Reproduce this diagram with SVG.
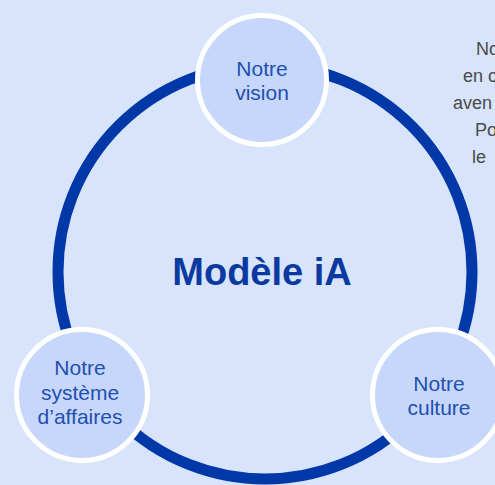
<svg xmlns="http://www.w3.org/2000/svg" width="495" height="485" viewBox="0 0 495 485">
<style>
.node circle{fill:#c6d7fb;stroke:#ffffff;stroke-width:5}
.lbl{font-family:"Liberation Sans",Arial,sans-serif;font-size:21px;fill:#1f4fb0;text-anchor:middle}
.side{font-family:"Liberation Sans",Arial,sans-serif;font-size:18px;fill:#4a4a4a}
</style>
<rect width="495" height="485" fill="#d8e3fc"/>
<g id="connectors">
<circle cx="265" cy="272" r="207" fill="none" stroke="#0038a8" stroke-width="11"/>
</g>
<g id="center">
<text x="262" y="285" font-family="Liberation Sans,Arial,sans-serif" font-size="38" font-weight="bold" fill="#0a3a9f" text-anchor="middle">Modèle iA</text>
</g>
<g id="vision" class="node">
<circle cx="262" cy="80" r="64.5"/>
<text class="lbl" x="262" y="76">Notre</text>
<text class="lbl" x="262" y="100">vision</text>
</g>
<g id="affaires" class="node">
<circle cx="82" cy="395" r="65.5"/>
<text class="lbl" x="80" y="375">Notre</text>
<text class="lbl" x="80" y="400">système</text>
<text class="lbl" x="80" y="424">d’affaires</text>
</g>
<g id="culture" class="node">
<circle cx="438" cy="395" r="65.5"/>
<text class="lbl" x="439" y="391">Notre</text>
<text class="lbl" x="439" y="415">culture</text>
</g>
<g id="sidetext">
<text class="side" x="476" y="55">No</text>
<text class="side" x="463" y="82">en c</text>
<text class="side" x="453" y="109">aven</text>
<text class="side" x="475" y="136">Po</text>
<text class="side" x="472" y="163">le</text>
</g>
</svg>
